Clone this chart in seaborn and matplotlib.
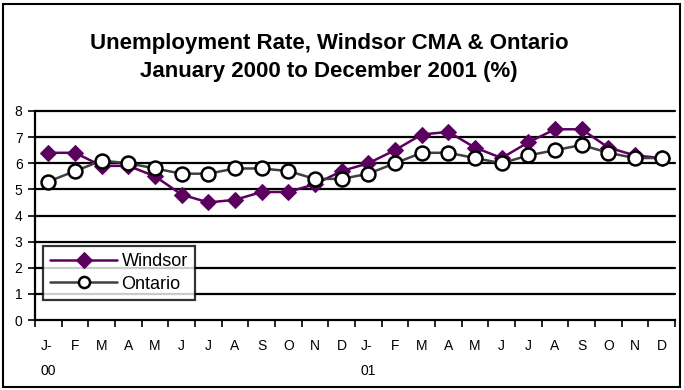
import matplotlib
matplotlib.use("Agg")
import matplotlib.pyplot as plt
import seaborn as sns
import pandas as pd
import numpy as np
from matplotlib.patches import Rectangle

months = ["J-\n00", "F", "M", "A", "M", "J", "J", "A", "S", "O", "N", "D",
          "J-\n01", "F", "M", "A", "M", "J", "J", "A", "S", "O", "N", "D"]
windsor = [6.4, 6.4, 5.9, 5.9, 5.5, 4.8, 4.5, 4.6, 4.9, 4.9, 5.2, 5.7,
           6.0, 6.5, 7.1, 7.2, 6.6, 6.2, 6.8, 7.3, 7.3, 6.6, 6.3, 6.2]
ontario = [5.3, 5.7, 6.1, 6.0, 5.8, 5.6, 5.6, 5.8, 5.8, 5.7, 5.4, 5.4,
           5.6, 6.0, 6.4, 6.4, 6.2, 6.0, 6.3, 6.5, 6.7, 6.4, 6.2, 6.2]
yticks = list(range(0, 9))

sns.set_theme(style="white")
plt.rcParams["font.family"] = ["Liberation Sans", "DejaVu Sans"]
plt.rcParams["text.color"] = "black"
plt.rcParams["xtick.color"] = "black"
plt.rcParams["ytick.color"] = "black"
plt.rcParams["xtick.labelcolor"] = "black"
plt.rcParams["ytick.labelcolor"] = "black"

idx = np.arange(len(months))
df = pd.DataFrame({"i": np.concatenate([idx, idx]),
                   "rate": windsor + ontario,
                   "series": ["Windsor"] * len(idx) + ["Ontario"] * len(idx)})

fig = plt.figure(figsize=(6.84, 3.90), dpi=100)
ax = fig.add_axes([35 / 684, 1 - 320 / 390, 640 / 684, 209 / 390])

purple = "#5c0060"
gray = "#404040"
sns.lineplot(data=df[df.series == "Windsor"], x="i", y="rate", ax=ax, color=purple,
             lw=1.8, marker="D", markersize=8, markeredgecolor=purple,
             markerfacecolor=purple, label="Windsor", sort=False)
sns.lineplot(data=df[df.series == "Ontario"], x="i", y="rate", ax=ax, color=gray,
             lw=1.8, marker="o", markersize=10, markeredgecolor="black",
             markeredgewidth=1.8, markerfacecolor="white", label="Ontario", sort=False)

ax.set_xlim(-0.5, len(months) - 0.5)
ax.set_ylim(0, 8)
ax.set_yticks(yticks)
ax.set_yticklabels([str(v) for v in yticks], fontsize=10, color="black")
for v in yticks[1:]:
    ax.axhline(v, color="black", lw=1.6, zorder=0, clip_on=False)

ax.set_xticks(np.arange(-0.5, len(months), 1.0))
ax.set_xticklabels([])
ax.set_xticks(idx, minor=True)
ax.set_xticklabels(months, minor=True, fontsize=10, linespacing=2.0, va="top", color="black")
ax.tick_params(axis="x", which="major", direction="out", length=5, width=1.2, color="black", bottom=True)
ax.tick_params(axis="x", which="minor", length=0, pad=14)
ax.tick_params(axis="y", direction="out", length=5, width=1.2, color="black", left=True, pad=4)
for lbl in ax.get_xticklabels(minor=True):
    lbl.set_multialignment("left")

for s in ["top", "right"]:
    ax.spines[s].set_visible(False)
for s in ["left", "bottom"]:
    ax.spines[s].set_color("black")
    ax.spines[s].set_linewidth(1.6)

ax.set_xlabel("")
ax.set_ylabel("")

leg = ax.legend(loc="upper left", bbox_to_anchor=(8 / 640, (320 - 246) / 209),
                frameon=True, fancybox=False, edgecolor="black", fontsize=13,
                borderpad=0.4, handlelength=3.7, handletextpad=0.25, labelspacing=0.3,
                borderaxespad=0)
leg.get_frame().set_linewidth(1.6)
for t in leg.get_texts():
    t.set_color("black")
for h in leg.legend_handles:
    h.set_markersize(8)

fig.text(0.481, 1 - 43 / 390, "Unemployment Rate, Windsor CMA & Ontario",
         ha="center", va="center", fontsize=16, fontweight="bold", color="black")
fig.text(0.481, 1 - 72 / 390, "January 2000 to December 2001 (%)",
         ha="center", va="center", fontsize=16, fontweight="bold", color="black")

fig.patches.append(Rectangle((3 / 684, 3 / 390), 677 / 684, 383 / 390,
                             transform=fig.transFigure, fill=False,
                             edgecolor="black", lw=1.5))

fig.savefig("out.png", dpi=100)
